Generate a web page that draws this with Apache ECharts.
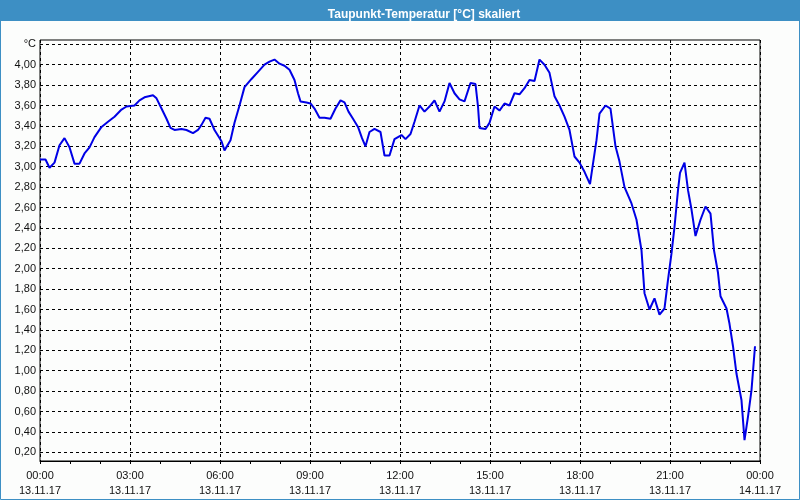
<!DOCTYPE html>
<html>
<head>
<meta charset="utf-8">
<script src="https://cdn.jsdelivr.net/npm/echarts@6/dist/echarts.min.js"></script>
<style>
html,body{margin:0;padding:0;background:#fff;}
#chart{width:800px;height:500px;}
</style>
</head>
<body>
<div id="chart"></div>
<script>
// ---- data ----
const titleText = 'Taupunkt-Temperatur [°C] skaliert';
const times = ['00:00','00:11','00:19','00:29','00:39','00:49','00:59','01:09','01:19','01:29','01:39','01:49','02:03','02:16','02:29','02:43','02:53','03:09','03:19','03:29','03:46','03:53','04:03','04:13','04:21','04:29','04:43','04:53','05:06','05:16','05:23','05:31','05:39','05:49','06:03','06:09','06:21','06:29','06:39','06:49','07:03','07:16','07:29','07:39','07:49','07:59','08:09','08:19','08:29','08:36','08:41','08:53','09:01','09:09','09:19','09:29','09:41','09:51','10:01','10:09','10:17','10:26','10:36','10:44','10:51','10:59','11:09','11:21','11:29','11:39','11:49','12:03','12:11','12:21','12:29','12:39','12:49','12:59','13:09','13:19','13:29','13:39','13:49','13:59','14:09','14:13','14:21','14:31','14:36','14:39','14:51','14:59','15:09','15:19','15:29','15:39','15:49','15:59','16:09','16:19','16:29','16:39','16:49','16:59','17:09','17:19','17:29','17:39','17:49','17:59','18:09','18:20','18:26','18:33','18:39','18:51','19:01','19:11','19:19','19:29','19:43','19:53','20:03','20:09','20:19','20:29','20:39','20:49','20:56','21:03','21:09','21:16','21:20','21:29','21:36','21:43','21:51','22:01','22:11','22:21','22:28','22:36','22:41','22:53','22:59','23:06','23:13','23:23','23:29','23:36','23:43','23:50'];
const dewpoint = [3.07,3.07,2.99,3.04,3.21,3.28,3.19,3.03,3.03,3.13,3.19,3.29,3.39,3.44,3.49,3.56,3.59,3.60,3.65,3.68,3.70,3.67,3.57,3.47,3.38,3.36,3.37,3.36,3.33,3.36,3.41,3.48,3.47,3.36,3.25,3.16,3.26,3.43,3.60,3.78,3.86,3.93,4.00,4.03,4.05,4.01,3.99,3.95,3.85,3.72,3.64,3.63,3.62,3.57,3.48,3.48,3.47,3.57,3.65,3.63,3.54,3.47,3.39,3.28,3.20,3.34,3.37,3.34,3.11,3.11,3.27,3.31,3.27,3.32,3.44,3.60,3.54,3.59,3.65,3.54,3.64,3.82,3.72,3.66,3.64,3.65,3.82,3.81,3.59,3.38,3.37,3.43,3.59,3.55,3.62,3.60,3.72,3.71,3.77,3.85,3.84,4.05,4.00,3.92,3.69,3.60,3.49,3.36,3.10,3.04,2.95,2.83,3.03,3.26,3.52,3.60,3.57,3.20,3.05,2.80,2.64,2.48,2.18,1.76,1.60,1.71,1.55,1.61,1.89,2.15,2.41,2.77,2.94,3.04,2.77,2.58,2.32,2.48,2.61,2.54,2.18,1.96,1.73,1.61,1.46,1.24,0.97,0.71,0.32,0.55,0.81,1.24];
const yTicks = [0.2,0.4,0.6,0.8,1.0,1.2,1.4,1.6,1.8,2.0,2.2,2.4,2.6,2.8,3.0,3.2,3.4,3.6,3.8,4.0,4.2];
const xTimeLabels = ['00:00','03:00','06:00','09:00','12:00','15:00','18:00','21:00','00:00'];
const xDateLabels = ['13.11.17','13.11.17','13.11.17','13.11.17','13.11.17','13.11.17','13.11.17','13.11.17','14.11.17'];
const yUnit = '°C';

function toHours(t){ const p = t.split(':'); return +p[0] + (+p[1])/60; }
const seriesData = times.map((t,i)=>[toHours(t), dewpoint[i]]);

const chart = echarts.init(document.getElementById('chart'), null, {renderer:'canvas'});
const font = 'Liberation Sans, Arial, sans-serif';
chart.setOption({
  backgroundColor: '#fcfdfc',
  animation: false,
  title: {
    text: titleText,
    left: 419, top: 10,
    textAlign: 'center', textVerticalAlign: 'middle',
    textStyle: {color:'#ffffff', fontFamily: font, fontSize: 12, fontWeight:'bold'}
  },
  graphic: [
    {type:'rect', z:-1, shape:{x:0,y:0,width:800,height:21}, style:{fill:'#3d8fc4'}},
    {type:'rect', z:-1, shape:{x:0.5,y:0.5,width:799,height:499}, style:{fill:null, stroke:'#3d8fc4', lineWidth:1}}
  ],
  grid: {left:40, right:40, top:40, bottom:39, show:true, borderColor:'#000', borderWidth:1, backgroundColor:'transparent'},
  xAxis: {
    type:'value', min:0, max:24, interval:3,
    axisLine:{show:true, lineStyle:{color:'#000', width:1}},
    axisTick:{show:true, length:3, lineStyle:{color:'#000'}},
    minorTick:{show:true, splitNumber:3, length:3, lineStyle:{color:'#000'}},
    splitLine:{show:true, lineStyle:{color:'#000', width:1, type:[3,3]}},
    axisLabel:{
      margin:7, color:'#111', fontFamily:font, fontSize:11, lineHeight:15,
      formatter:function(v){ const i = Math.round(v/3); return xTimeLabels[i] + '\n' + xDateLabels[i]; }
    }
  },
  yAxis: {
    type:'value', min:0.115, max:4.242,
    axisLine:{show:false},
    axisTick:{show:false, customValues: yTicks},
    splitLine:{show:true, lineStyle:{color:'#000', width:1, type:[3,3]}},
    axisLabel:{
      customValues: yTicks, margin:4, color:'#111', fontFamily:font, fontSize:11,
      formatter:function(v){ return Math.abs(v-4.2)<1e-6 ? yUnit : v.toFixed(2).replace('.', ','); }
    }
  },
  series: [{
    type:'line', data: seriesData, showSymbol:false, symbol:'none',
    lineStyle:{color:'#0000e6', width:2}, clip:true
  }]
});
</script>
</body>
</html>
